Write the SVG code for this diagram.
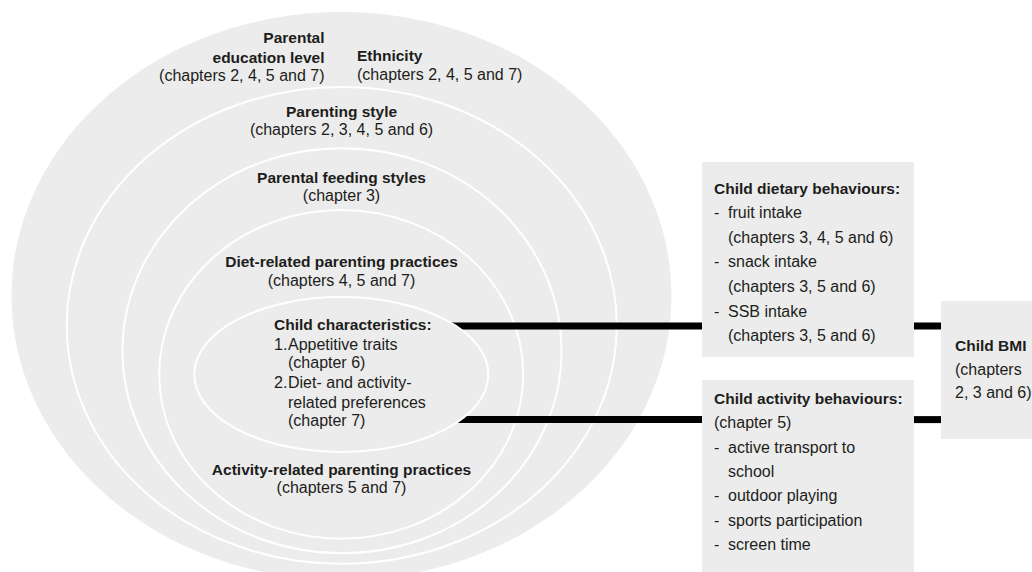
<svg xmlns="http://www.w3.org/2000/svg" width="1032" height="572" viewBox="0 0 1032 572">
<style>
.bg{fill:#ffffff}
.disc{fill:#ececec}
.ring{fill:none;stroke:#ffffff;stroke-width:2}
.inner{fill:#ececec;stroke:#ffffff;stroke-width:2}
.box{fill:#ececec}
.bar{stroke:#000000;stroke-width:7;fill:none}
text{font-family:"Liberation Sans",Arial,sans-serif;fill:#1d1d1b}
.b{font-size:15.5px;font-weight:bold}
.r{font-size:16px}
.m{text-anchor:middle}
.e{text-anchor:end}
</style>
<rect class="bg" x="0" y="0" width="1032" height="572"/>
<g id="node-sociodemographic">
<ellipse class="disc" cx="341.5" cy="296" rx="330" ry="284"/>
<text class="b e" x="324.5" y="42.7">Parental</text>
<text class="b e" x="324.5" y="62.5">education level</text>
<text class="r e" x="324.5" y="80.5">(chapters 2, 4, 5 and 7)</text>
<text class="b" x="357" y="61.3">Ethnicity</text>
<text class="r" x="357" y="79.5">(chapters 2, 4, 5 and 7)</text>
</g>
<g id="node-parenting-style">
<ellipse class="ring" cx="341.7" cy="325.4" rx="275" ry="238.4"/>
<text class="b m" x="341.5" y="117.3">Parenting style</text>
<text class="r m" x="341.5" y="135.3">(chapters 2, 3, 4, 5 and 6)</text>
</g>
<g id="node-feeding-styles">
<ellipse class="ring" cx="342" cy="350.7" rx="219.5" ry="202.5"/>
<text class="b m" x="341.5" y="183.3">Parental feeding styles</text>
<text class="r m" x="341.5" y="200.8">(chapter 3)</text>
</g>
<g id="node-parenting-practices">
<ellipse class="ring" cx="341.2" cy="374.4" rx="182" ry="164.3"/>
<text class="b m" x="341.5" y="267.3">Diet-related parenting practices</text>
<text class="r m" x="341.5" y="286">(chapters 4, 5 and 7)</text>
<text class="b m" x="341.5" y="475">Activity-related parenting practices</text>
<text class="r m" x="341.5" y="493">(chapters 5 and 7)</text>
</g>
<g id="connectors">
<line class="bar" x1="440" y1="326" x2="702" y2="326"/>
<line class="bar" x1="440" y1="419.6" x2="702" y2="419.6"/>
<line class="bar" x1="914" y1="326" x2="941" y2="326"/>
<line class="bar" x1="914" y1="419.6" x2="941" y2="419.6"/>
</g>
<g id="node-child-characteristics">
<ellipse class="inner" cx="341.3" cy="374.5" rx="147" ry="77.5"/>
<text class="b" x="274" y="330">Child characteristics:</text>
<text class="r" x="274" y="350">1.</text>
<text class="r" x="288" y="350">Appetitive traits</text>
<text class="r" x="288" y="367.5">(chapter 6)</text>
<text class="r" x="274" y="388.3">2.</text>
<text class="r" x="288" y="388.3">Diet- and activity-</text>
<text class="r" x="288" y="408.3">related preferences</text>
<text class="r" x="288" y="426">(chapter 7)</text>
</g>
<g id="node-dietary-behaviours">
<rect class="box" x="702" y="162" width="212" height="195"/>
<text class="b" x="714" y="193.5">Child dietary behaviours:</text>
<text class="r" x="714" y="218">-</text>
<text class="r" x="728" y="218">fruit intake</text>
<text class="r" x="728" y="242.5">(chapters 3, 4, 5 and 6)</text>
<text class="r" x="714" y="267.3">-</text>
<text class="r" x="728" y="267.3">snack intake</text>
<text class="r" x="728" y="292">(chapters 3, 5 and 6)</text>
<text class="r" x="714" y="316.7">-</text>
<text class="r" x="728" y="316.7">SSB intake</text>
<text class="r" x="728" y="341.3">(chapters 3, 5 and 6)</text>
</g>
<g id="node-activity-behaviours">
<rect class="box" x="702" y="380" width="212" height="192"/>
<text class="b" x="714" y="403.5">Child activity behaviours:</text>
<text class="r" x="714" y="428">(chapter 5)</text>
<text class="r" x="714" y="452.5">-</text>
<text class="r" x="728" y="452.5">active transport to</text>
<text class="r" x="728" y="477">school</text>
<text class="r" x="714" y="501.3">-</text>
<text class="r" x="728" y="501.3">outdoor playing</text>
<text class="r" x="714" y="525.8">-</text>
<text class="r" x="728" y="525.8">sports participation</text>
<text class="r" x="714" y="550.3">-</text>
<text class="r" x="728" y="550.3">screen time</text>
</g>
<g id="node-child-bmi">
<rect class="box" x="941" y="301" width="91" height="138"/>
<text class="b" x="955" y="351">Child BMI</text>
<text class="r" x="955" y="374.5">(chapters</text>
<text class="r" x="955" y="398">2, 3 and 6)</text>
</g>
</svg>
